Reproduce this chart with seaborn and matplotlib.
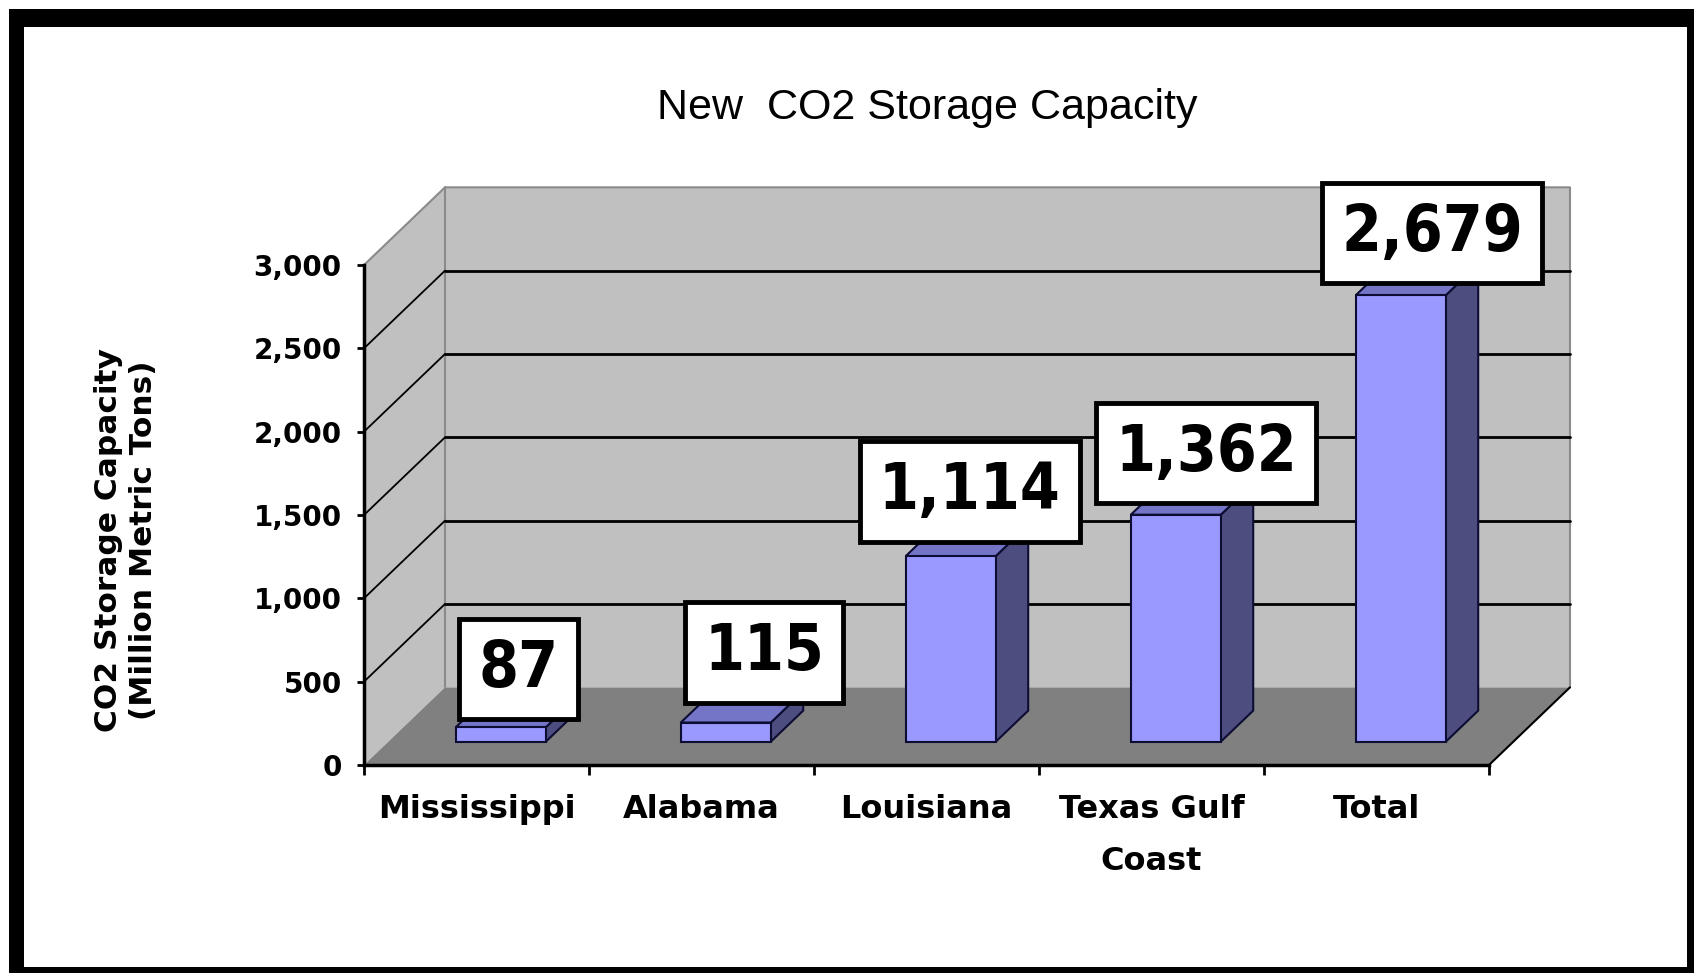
import matplotlib
matplotlib.use("Agg")
import matplotlib.pyplot as plt
import seaborn as sns
from matplotlib.patches import Polygon, Rectangle
from matplotlib.ticker import FuncFormatter

# ---- data -------------------------------------------------------------
categories = ["Mississippi", "Alabama", "Louisiana", "Texas Gulf\nCoast", "Total"]
capacity = [87, 115, 1114, 1362, 2679]
value_labels = ["87", "115", "1,114", "1,362", "2,679"]
y_ticks = [0, 500, 1000, 1500, 2000, 2500, 3000]

chart_title = "New  CO2 Storage Capacity"
y_title = "CO2 Storage Capacity\n(Million Metric Tons)"

# ---- styling ----------------------------------------------------------
W, H = 1694, 973
sns.set_style("white")
plt.rcParams["font.family"] = ["DejaVu Sans"]
plt.rcParams["text.color"] = "black"
plt.rcParams["xtick.color"] = "black"
plt.rcParams["ytick.color"] = "black"

WALL = "#c0c0c0"
FLOOR = "#808080"
FRONT = "#9999ff"
SIDE = "#4d4d80"
TOP = "#7575c8"
EDGE = "#0d0d33"

DX, DY = 0.36, 466          # oblique depth of the chart box (category units, value units)
BAR_FRONT, BAR_DEPTH = 0.3, 0.4

fig = plt.figure(figsize=(W / 100, H / 100), dpi=100)

# outer black frame
fig.patches.append(Rectangle((9 / W, 0), (W - 9) / W, (H - 9) / H,
                             transform=fig.transFigure, facecolor="black",
                             edgecolor="none", zorder=-10))
fig.patches.append(Rectangle((24 / W, (H - 967) / H), (1687 - 24) / W, (967 - 27) / H,
                             transform=fig.transFigure, facecolor="white",
                             edgecolor="none", zorder=-9))

ax = fig.add_axes([364 / W, (H - 765) / H, (1489 - 364) / W, 500 / H])
ax.set_facecolor("none")

# front faces of the columns
sns.barplot(x=categories, y=capacity, color=FRONT, saturation=1, width=0.4,
            edgecolor=EDGE, linewidth=1.5, ax=ax, zorder=4)
bars = sorted(list(ax.patches), key=lambda p: p.get_x())

ax.set_xlim(-0.5, 4.5)
ax.set_ylim(0, 3000)

x_left, x_right = -0.5, 4.5
top = 3000

# walls and floor
ax.add_patch(Rectangle((x_left + DX, DY), x_right - x_left, top, facecolor=WALL,
                       edgecolor="none", zorder=0.5, clip_on=False))
ax.add_patch(Polygon([(x_left, 0), (x_left, top), (x_left + DX, top + DY), (x_left + DX, DY)],
                     closed=True, facecolor=WALL, edgecolor="none", zorder=0.5, clip_on=False))
ax.add_patch(Polygon([(x_left, 0), (x_right, 0), (x_right + DX, DY), (x_left + DX, DY)],
                     closed=True, facecolor=FLOOR, edgecolor="none", zorder=0.8, clip_on=False))

# wall outlines
ax.plot([x_left, x_left + DX, x_right + DX, x_right + DX], [top, top + DY, top + DY, DY],
        color="#8a8a8a", lw=1.5, zorder=0.9, clip_on=False)
ax.plot([x_left + DX, x_left + DX], [DY, top + DY], color="#8a8a8a", lw=1.5,
        zorder=0.9, clip_on=False)
ax.plot([x_right, x_right + DX], [0, DY], color="black", lw=1.5, zorder=0.9, clip_on=False)

# gridlines on back and side walls
for v in y_ticks[1:-1]:
    ax.plot([x_left + DX, x_right + DX], [v + DY, v + DY], color="black", lw=2,
            zorder=1, clip_on=False)
    ax.plot([x_left, x_left + DX], [v, v + DY], color="black", lw=1.3,
            zorder=1, clip_on=False)

# shift columns into depth and add side / top faces
label_dx = [1, 16, 2, 10, 11]
label_gap = [0, 8.5, 4.5, 2.5, 3]
for p, v, txt, ndx, gap in zip(bars, capacity, value_labels, label_dx, label_gap):
    w = p.get_width()
    x0 = p.get_x() + BAR_FRONT * DX
    y0 = BAR_FRONT * DY
    p.set_x(x0)
    p.set_y(y0)
    p.set_clip_on(False)
    ddx, ddy = BAR_DEPTH * DX, BAR_DEPTH * DY
    ax.add_patch(Polygon([(x0 + w, y0), (x0 + w + ddx, y0 + ddy),
                          (x0 + w + ddx, y0 + v + ddy), (x0 + w, y0 + v)],
                         closed=True, facecolor=SIDE, edgecolor=EDGE, lw=1.5,
                         zorder=3.9, clip_on=False))
    ax.add_patch(Polygon([(x0, y0 + v), (x0 + w, y0 + v),
                          (x0 + w + ddx, y0 + v + ddy), (x0 + ddx, y0 + v + ddy)],
                         closed=True, facecolor=TOP, edgecolor=EDGE, lw=1.5,
                         zorder=3.9, clip_on=False))
    ax.annotate(txt, xy=(x0 + w / 2 + ddx / 2, y0 + v), xytext=(ndx, gap + 42),
                textcoords="offset points", ha="center", va="center",
                fontsize=46, fontweight="bold", fontstretch="condensed",
                bbox=dict(boxstyle="square,pad=0.30", facecolor="white",
                          edgecolor="black", lw=3.5),
                zorder=6, annotation_clip=False)

# axes: spines, ticks and tick labels
for s in ["top", "right"]:
    ax.spines[s].set_visible(False)
for s in ["left", "bottom"]:
    ax.spines[s].set_color("black")
    ax.spines[s].set_linewidth(2.5)
    ax.spines[s].set_zorder(5)

ax.set_yticks(y_ticks)
ax.yaxis.set_major_formatter(FuncFormatter(lambda v, _: f"{int(v):,}"))
ax.tick_params(axis="y", which="major", left=True, length=5, width=2, color="black",
               pad=11, labelsize=20)
ax.set_xticks(range(len(categories)))
ax.set_xticklabels(categories, linespacing=1.85)
ax.set_xticks([i - 0.5 for i in range(len(categories) + 1)], minor=True)
ax.tick_params(axis="x", which="major", length=0, pad=21, labelsize=23)
ax.tick_params(axis="x", which="minor", bottom=True, length=7, width=2, color="black")
for lab in ax.get_xticklabels() + ax.get_yticklabels():
    lab.set_fontweight("bold")
ax.set_xlabel("")
ax.set_ylabel("")

fig.text(126 / W, 1 - 540 / H, y_title, rotation=90, ha="center", va="center",
         fontsize=22.5, fontweight="bold", linespacing=1.3, multialignment="center")
fig.text(927 / W, 1 - 108 / H, chart_title, ha="center", va="center",
         fontsize=31, family="Liberation Sans")

fig.savefig("out.png", dpi=100)
